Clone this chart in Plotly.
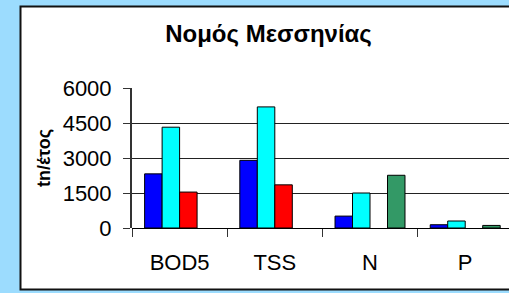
import plotly.graph_objects as go

categories = ["BOD5", "TSS", "N", "P"]
series_blue = [2320, 2900, 510, 140]
series_cyan = [4320, 5190, 1500, 300]
series_red = [1540, 1850, None, None]
series_green = [None, None, 2260, 110]
yticks = [0, 1500, 3000, 4500, 6000]

W, H = 509, 293
ML, MR, MT, MB = 132, 0, 88, 65
PW, PH = W - ML - MR, H - MT - MB

def px2x(px):
    return (px - ML) / PW

def px2y(py):
    return (H - MB - py) / PH

fig = go.Figure()
for vals, col in [(series_blue, "#0000FF"), (series_cyan, "#00FFFF"),
                  (series_red, "#FF0000"), (series_green, "#339966")]:
    fig.add_trace(go.Bar(x=categories, y=vals, marker=dict(color=col, line=dict(color="#000000", width=1)),
                         showlegend=False, hoverinfo="skip"))

fig.update_layout(
    width=W, height=H,
    margin=dict(l=ML, r=MR, t=MT, b=MB, pad=0, autoexpand=False),
    paper_bgcolor="#9CDCFE",
    plot_bgcolor="rgba(0,0,0,0)",
    barmode="group", bargap=0.265, bargroupgap=0,
    font=dict(family="Arial, Liberation Sans, sans-serif", color="#000000"),
    title=dict(text="<b>Νομός Μεσσηνίας</b>", x=268.5 / W, xanchor="center", xref="container",
               y=1 - 34 / H, yanchor="middle", yref="container",
               font=dict(size=24, family="Arial, Liberation Sans, sans-serif", color="#000000")),
    xaxis=dict(range=[-0.5, 3.46], showgrid=False, showline=False, zeroline=False,
               ticks="outside", ticklen=8, tickcolor="#333333", tickwidth=1,
               tickson="boundaries", tickfont=dict(size=22), ticklabelstandoff=19),
    yaxis=dict(range=[0, 6000], tickvals=yticks, ticktext=[str(v) for v in yticks],
               showgrid=True, gridcolor="#222222", gridwidth=1,
               showline=True, linecolor="#333333", linewidth=2,
               zeroline=True, zerolinecolor="#000000", zerolinewidth=1,
               ticks="outside", ticklen=7, tickcolor="#333333", tickfont=dict(size=22),
               ticklabelstandoff=7),
    shapes=[dict(type="rect", xref="paper", yref="paper", layer="below",
                 x0=px2x(20.5), x1=px2x(520), y0=px2y(289.5), y1=px2y(6.5),
                 fillcolor="#FFFFFF", line=dict(color="#111111", width=2))],
    annotations=[dict(text="<b>tn/έτος</b>", xref="paper", yref="paper", x=px2x(44), y=0.5,
                      textangle=-90, showarrow=False, xanchor="center", yanchor="middle",
                      font=dict(size=18, family="Arial, Liberation Sans, sans-serif", color="#000000"))],
)

fig.write_html("out.html", config={"displayModeBar": False},
               post_script="document.body.style.margin='0';document.body.style.padding='0';document.body.style.overflow='hidden';document.documentElement.style.overflow='hidden';")
